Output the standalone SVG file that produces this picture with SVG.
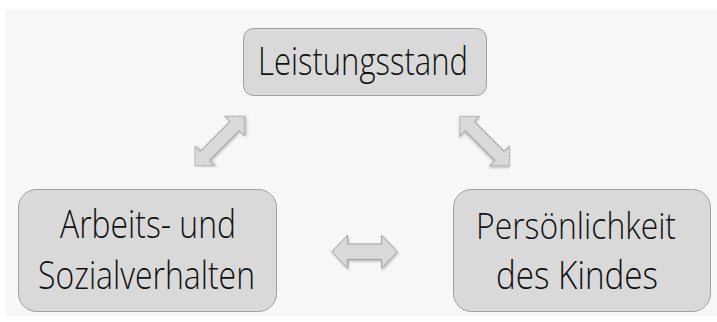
<svg xmlns="http://www.w3.org/2000/svg" width="717" height="322" viewBox="0 0 717 322">
  <defs>
    <filter id="shadow" x="-20%" y="-20%" width="140%" height="140%">
      <feDropShadow dx="1" dy="1.5" stdDeviation="1" flood-color="#000" flood-opacity="0.25"/>
    </filter>
    <path id="diag" d="M-35,0 L-21,-14 L-21,-6.5 L21,-6.5 L21,-14 L35,0 L21,14 L21,6.5 L-21,6.5 L-21,14 Z"/>
  </defs>
  <style>
    .node rect { fill: #d9d9d9; stroke: #a0a0a0; stroke-width: 1; }
    .label { font-family: "Open Sans", "Liberation Sans", sans-serif; font-weight: 300; font-size: 39px; fill: #111111; text-anchor: middle; }
    .arrow { fill: #d9d9d9; stroke: #a0a0a0; stroke-width: 1; filter: url(#shadow); }
  </style>
  <rect x="6" y="9" width="711" height="307" fill="#f7f7f7"/>

  <g id="connectors">
    <use href="#diag" class="arrow" transform="translate(219.7,141) rotate(-45)"/>
    <use href="#diag" class="arrow" transform="translate(484.7,141) rotate(45)"/>
    <path class="arrow" transform="translate(364.5,251.7)" d="M-32.8,0 L-17.1,-16.5 L-17.1,-7.7 L17.1,-7.7 L17.1,-16.5 L32.8,0 L17.1,16.5 L17.1,7.7 L-17.1,7.7 L-17.1,16.5 Z"/>
  </g>

  <g id="node-leistungsstand" class="node">
    <rect x="243.5" y="28.5" width="243" height="67" rx="10" ry="10"/>
    <text class="label" x="363" y="75" textLength="210" lengthAdjust="spacingAndGlyphs">Leistungsstand</text>
  </g>

  <g id="node-arbeits-sozialverhalten" class="node">
    <rect x="18.5" y="189.5" width="258" height="122" rx="18" ry="18"/>
    <text class="label" x="148" y="238" textLength="176" lengthAdjust="spacingAndGlyphs">Arbeits- und</text>
    <text class="label" x="146.5" y="289" textLength="217" lengthAdjust="spacingAndGlyphs">Sozialverhalten</text>
  </g>

  <g id="node-persoenlichkeit" class="node">
    <rect x="453.5" y="189.5" width="257" height="122" rx="18" ry="18"/>
    <text class="label" x="576" y="239" style="font-size:37px" textLength="200" lengthAdjust="spacingAndGlyphs">Persönlichkeit</text>
    <text class="label" x="577" y="289" textLength="162" lengthAdjust="spacingAndGlyphs">des Kindes</text>
  </g>
</svg>
